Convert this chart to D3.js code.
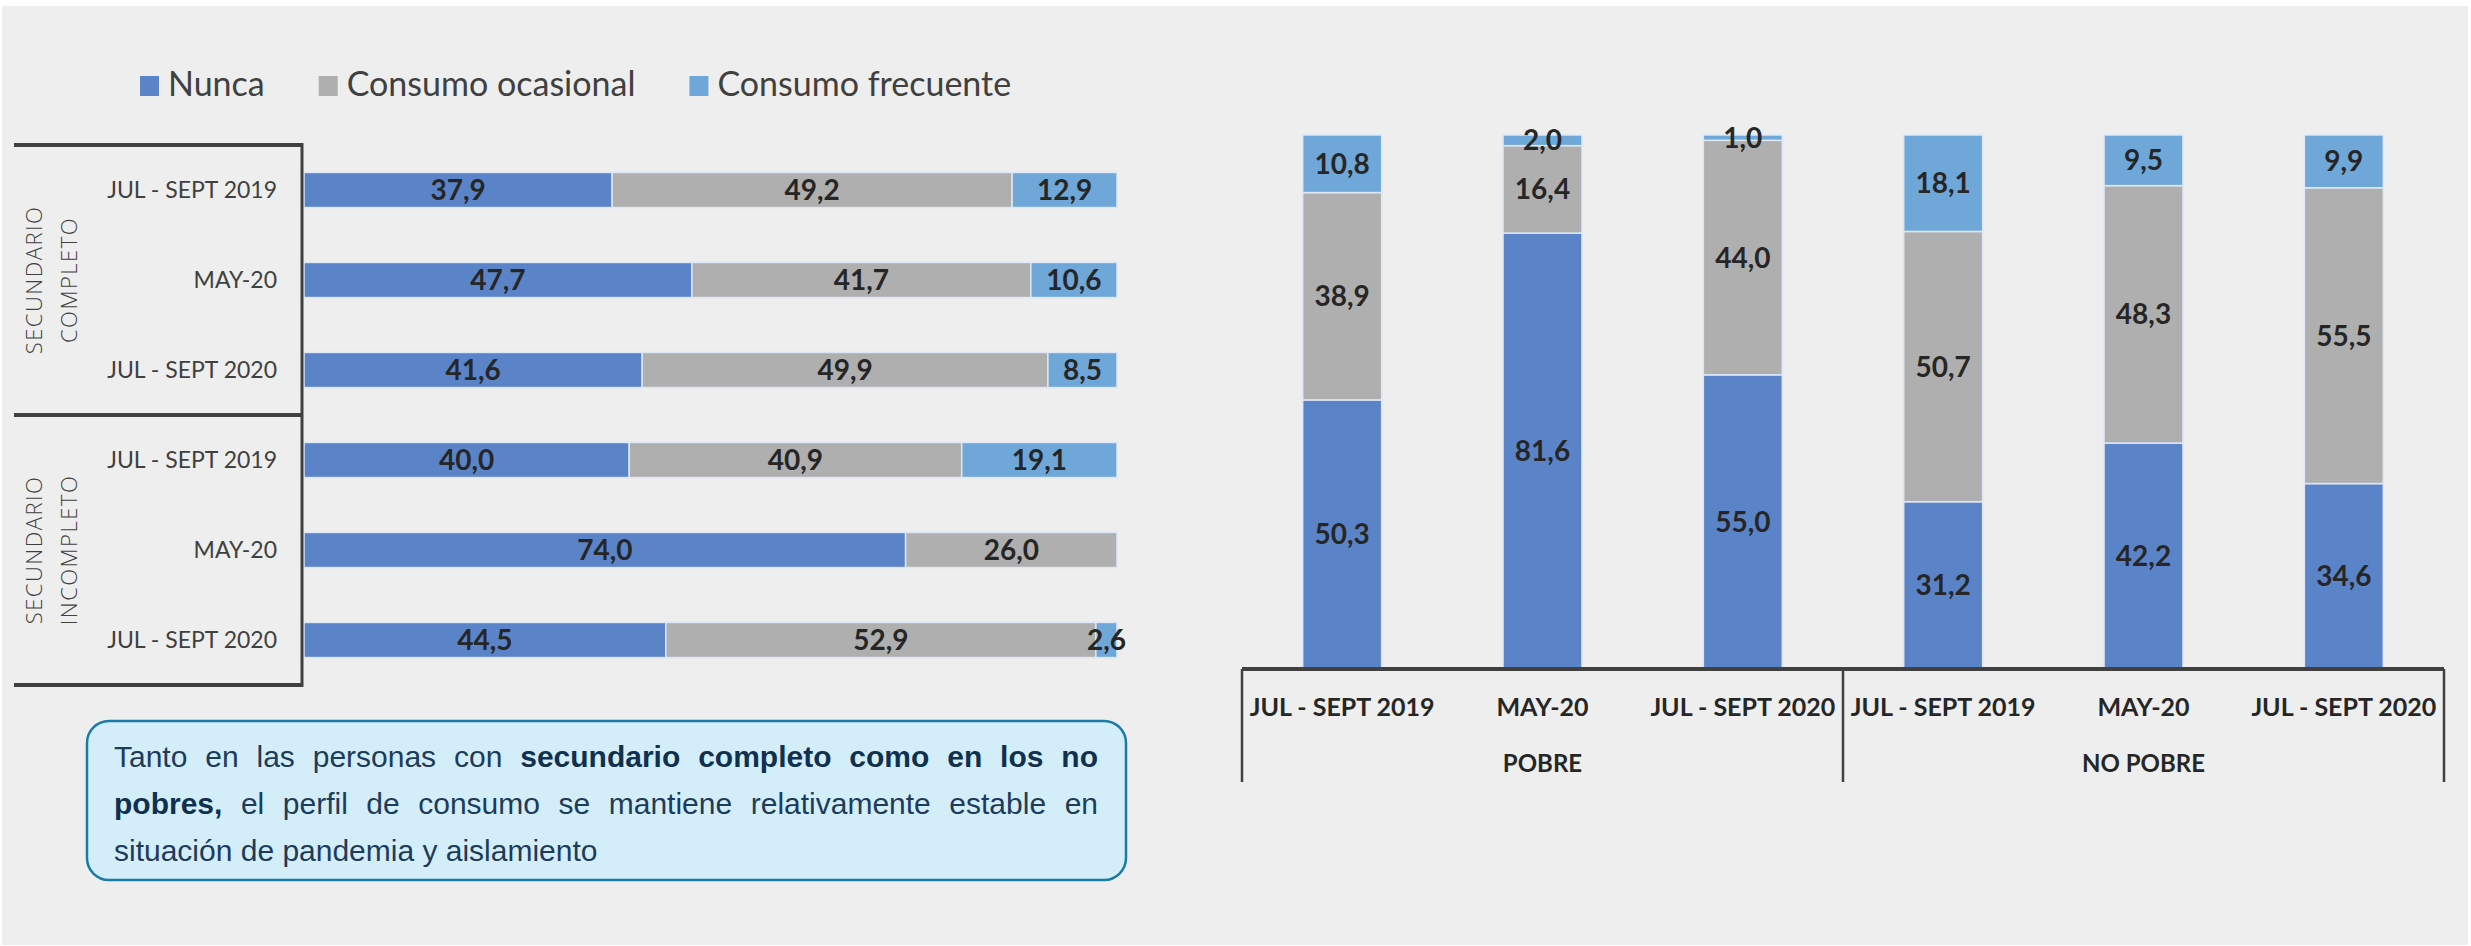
<!DOCTYPE html>
<html>
<head>
<meta charset="utf-8">
<script src="https://cdn.jsdelivr.net/npm/d3@7"></script>
<style>
  body { margin: 0; background: #ffffff; }
  svg { display: block; }
</style>
</head>
<body>
<div id="chart"></div>
<script>
// categorias y series
const periods = ["JUL - SEPT 2019", "MAY-20", "JUL - SEPT 2020"];
const series = ["Nunca", "Consumo ocasional", "Consumo frecuente"];

// panel izquierdo: nivel educativo
const leftGroups = ["SECUNDARIO COMPLETO", "SECUNDARIO INCOMPLETO"];
const leftNunca = [37.9, 47.7, 41.6, 40.0, 74.0, 44.5];
const leftOcasional = [49.2, 41.7, 49.9, 40.9, 26.0, 52.9];
const leftFrecuente = [12.9, 10.6, 8.5, 19.1, 0, 2.6];

// panel derecho: pobreza
const rightGroups = ["POBRE", "NO POBRE"];
const rightNunca = [50.3, 81.6, 55.0, 31.2, 42.2, 34.6];
const rightOcasional = [38.9, 16.4, 44.0, 50.7, 48.3, 55.5];
const rightFrecuente = [10.8, 2.0, 1.0, 18.1, 9.5, 9.9];

const note = [
  [["Tanto en las personas con", false], ["secundario completo como en los no", true]],
  [["pobres,", true], ["el perfil de consumo se mantiene relativamente estable en", false]],
  [["situación de pandemia y aislamiento", false]]
];

const W = 2471, H = 946;
const colors = { "Nunca": "#5b84c8", "Consumo ocasional": "#afafaf", "Consumo frecuente": "#6fa7d9" };
const dark = "#404040";
const font = "Lato, 'Open Sans', sans-serif";
const fmt = v => d3.format(".1f")(v).replace(".", ",");

const svg = d3.select("#chart").append("svg")
  .attr("width", W).attr("height", H);

svg.append("rect")
  .attr("x", 2).attr("y", 6).attr("width", W - 5).attr("height", H - 7)
  .attr("fill", "#edeeed");

// armar filas
function rows(groups, a, b, c) {
  const out = [];
  groups.forEach((g, gi) => periods.forEach((p, pi) => {
    const i = gi * 3 + pi;
    out.push({ key: i, group: g, period: p, "Nunca": a[i], "Consumo ocasional": b[i], "Consumo frecuente": c[i] });
  }));
  return out;
}
const leftData = rows(leftGroups, leftNunca, leftOcasional, leftFrecuente);
const rightData = rows(rightGroups, rightNunca, rightOcasional, rightFrecuente);
const stack = d3.stack().keys(series);

// ---------- leyenda ----------
const legend = svg.append("g").attr("transform", "translate(140, 0)");
let lx = 0;
series.forEach(s => {
  legend.append("rect").attr("x", lx).attr("y", 76).attr("width", 19).attr("height", 20)
    .attr("fill", colors[s]);
  const t = legend.append("text").attr("x", lx + 28).attr("y", 96)
    .style("font-family", font).style("font-size", "34px").style("fill", dark)
    .text(s);
  lx += 28 + t.node().getComputedTextLength() + 54;
});

// ---------- panel izquierdo ----------
const xL = d3.scaleLinear().domain([0, 100]).range([304, 1117]);
const yL = d3.scaleBand().domain(leftData.map(d => d.key)).range([145, 685])
  .paddingInner(0.61).paddingOuter(0.305);

const leftStack = stack(leftData);
const gL = svg.append("g");
leftStack.forEach(layer => {
  gL.selectAll(null).data(layer.filter(d => d[1] - d[0] > 0)).enter()
    .append("rect")
      .attr("x", d => xL(d[0]))
      .attr("y", d => yL(d.data.key))
      .attr("width", d => xL(d[1]) - xL(d[0]))
      .attr("height", yL.bandwidth())
      .attr("fill", colors[layer.key])
      .attr("stroke", "#dde7f5").attr("stroke-width", 1.5);
});
leftStack.forEach(layer => {
  gL.selectAll(null).data(layer.filter(d => d[1] - d[0] > 0)).enter()
    .append("text")
      .attr("x", d => (xL(d[0]) + xL(d[1])) / 2)
      .attr("y", d => yL(d.data.key) + yL.bandwidth() / 2)
      .attr("dy", "0.36em")
      .attr("text-anchor", "middle")
      .style("font-family", font).style("font-weight", "bold").style("font-size", "28px")
      .style("fill", "#262626")
      .text(d => fmt(d[1] - d[0]));
});

// etiquetas de periodo
gL.selectAll(null).data(leftData).enter().append("text")
  .attr("x", 277)
  .attr("y", d => yL(d.key) + yL.bandwidth() / 2)
  .attr("dy", "0.36em")
  .attr("text-anchor", "end")
  .style("font-family", font).style("font-size", "23px").style("fill", dark)
  .text(d => d.period);

// corchetes de grupo
const step = yL.step();
[0, 1, 2].forEach(i => {
  gL.append("line").attr("x1", 14).attr("x2", 303)
    .attr("y1", 145 + i * 3 * step).attr("y2", 145 + i * 3 * step)
    .attr("stroke", dark).attr("stroke-width", 4);
});
gL.append("line").attr("x1", 302).attr("x2", 302).attr("y1", 143).attr("y2", 687)
  .attr("stroke", dark).attr("stroke-width", 3);

leftGroups.forEach((g, gi) => {
  const cy = 145 + (gi * 3 + 1.5) * step;
  const t = gL.append("text")
    .attr("transform", `translate(48, ${cy}) rotate(-90)`)
    .attr("text-anchor", "middle")
    .style("font-family", "'Open Sans', sans-serif").style("font-size", "22px")
    .style("font-weight", 300)
    .style("letter-spacing", "1.5px").style("fill", dark);
  g.split(" ").forEach((w, wi) => {
    t.append("tspan").attr("x", 0).attr("y", wi === 0 ? -6 : 29).text(w);
  });
});

// ---------- panel derecho ----------
const xR = d3.scaleBand().domain(rightData.map(d => d.key)).range([1242, 2444])
  .paddingInner(0.606).paddingOuter(0.303);
const yR = d3.scaleLinear().domain([0, 100]).range([668, 135]);

const rightStack = stack(rightData);
const gR = svg.append("g");
rightStack.forEach(layer => {
  gR.selectAll(null).data(layer).enter()
    .append("rect")
      .attr("x", d => xR(d.data.key))
      .attr("y", d => yR(d[1]))
      .attr("width", xR.bandwidth())
      .attr("height", d => yR(d[0]) - yR(d[1]))
      .attr("fill", colors[layer.key])
      .attr("stroke", "#dde7f5").attr("stroke-width", 1.5);
});
rightStack.forEach(layer => {
  gR.selectAll(null).data(layer).enter()
    .append("text")
      .attr("x", d => xR(d.data.key) + xR.bandwidth() / 2)
      .attr("y", d => (yR(d[0]) + yR(d[1])) / 2)
      .attr("dy", "0.36em")
      .attr("text-anchor", "middle")
      .style("font-family", font).style("font-weight", "bold").style("font-size", "28px")
      .style("fill", "#262626")
      .text(d => fmt(d[1] - d[0]));
});

// eje x con grupos
gR.append("line").attr("x1", 1242).attr("x2", 2444).attr("y1", 669).attr("y2", 669)
  .attr("stroke", dark).attr("stroke-width", 4);
[0, 3, 6].forEach(i => {
  const x = i === 6 ? 2444 : xR(i) - xR.step() * xR.paddingOuter();
  gR.append("line").attr("x1", x).attr("x2", x).attr("y1", 669).attr("y2", 782)
    .attr("stroke", dark).attr("stroke-width", 2.5);
});
gR.selectAll(null).data(rightData).enter().append("text")
  .attr("x", d => xR(d.key) + xR.bandwidth() / 2)
  .attr("y", 707).attr("dy", "0.36em")
  .attr("text-anchor", "middle")
  .style("font-family", font).style("font-weight", "bold").style("font-size", "25px")
  .style("fill", "#262626")
  .text(d => d.period);
rightGroups.forEach((g, gi) => {
  const x = (xR(gi * 3 + 1) + xR.bandwidth() / 2);
  gR.append("text").attr("x", x).attr("y", 763).attr("dy", "0.36em")
    .attr("text-anchor", "middle")
    .style("font-family", font).style("font-weight", "bold").style("font-size", "24px")
    .style("fill", "#262626")
    .text(g);
});

// ---------- recuadro de nota ----------
svg.append("rect")
  .attr("x", 87).attr("y", 721).attr("width", 1039).attr("height", 159)
  .attr("rx", 22).attr("ry", 22)
  .attr("fill", "#d4eef9").attr("stroke", "#1a7ba6").attr("stroke-width", 2.5);

const noteG = svg.append("g")
  .style("font-family", "'Liberation Sans', Arial, sans-serif").style("font-size", "30px");
const left0 = 114, lineW = 984, baselines = [767, 814, 861];
note.forEach((line, li) => {
  // separar en palabras y medir
  const words = [];
  line.forEach(([txt, bold]) => txt.split(" ").forEach(w => words.push({ w, bold })));
  const nodes = words.map(o => noteG.append("text")
    .attr("y", baselines[li])
    .style("font-weight", o.bold ? "bold" : "normal")
    .style("fill", o.bold ? "#10304f" : "#1d3b5a")
    .text(o.w));
  const widths = nodes.map(n => n.node().getComputedTextLength());
  const total = d3.sum(widths);
  const justify = li < note.length - 1;
  const gap = justify ? (lineW - total) / (words.length - 1) : 8.3;
  let x = left0;
  nodes.forEach((n, i) => { n.attr("x", x); x += widths[i] + gap; });
});
</script>
</body>
</html>
